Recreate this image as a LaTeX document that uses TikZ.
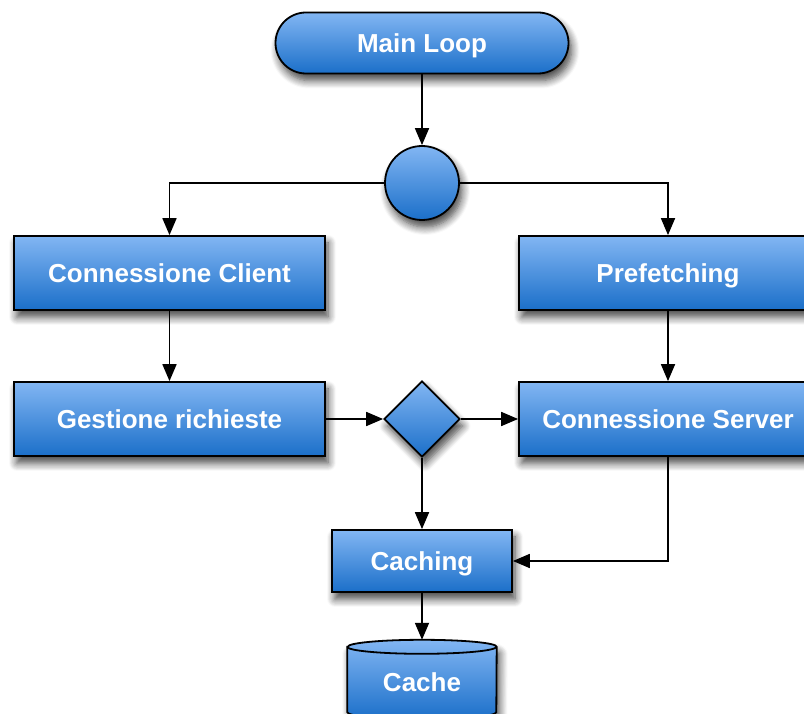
\documentclass[tikz,border=0pt]{standalone}
\usepackage{fontspec}
\setmainfont{Liberation Sans}
\usetikzlibrary{shapes.geometric,shapes.misc,arrows.meta,shadows.blur,backgrounds}

\definecolor{boxtop}{HTML}{82B6F3}
\definecolor{boxbot}{HTML}{1B6FC9}

\tikzset{
  x=1pt, y=1pt,
  boxfill/.style={top color=boxtop, bottom color=boxbot, draw=black, line width=1.8pt},
  softshadow/.style={blur shadow={shadow xshift=3pt, shadow yshift=-7pt,
      shadow blur radius=8pt, shadow blur steps=8, shadow opacity=75}},
  label/.style={text=white, font=\fontsize{26}{30}\selectfont\bfseries,
      text height=18.6pt, text depth=0pt},
  flowbox/.style={rectangle, boxfill, softshadow, inner sep=0pt, label},
  arr/.style={draw=black, line width=1.8pt, -{Triangle[length=17pt, width=14pt]}},
}

\begin{document}
\begin{tikzpicture}
  \useasboundingbox (0,0) rectangle (804,713);
  \clip (0,0) rectangle (804,713);

  % start of the loop
  \node[flowbox, rounded corners=30.5pt, minimum width=293pt, minimum height=61pt]
    (main) at (422,670) {Main Loop};

  % fork point
  \node[flowbox, circle, minimum size=74pt] (junc) at (422,530) {};

  % process boxes
  \node[flowbox, minimum width=311pt, minimum height=74pt] (client) at (169.5,440) {Connessione Client};
  \node[flowbox, minimum width=298pt, minimum height=74pt] (prefetch) at (668,440) {Prefetching};
  \node[flowbox, minimum width=311pt, minimum height=74pt] (gest) at (169.5,294) {Gestione richieste};
  \node[flowbox, diamond, aspect=1, minimum width=76pt, minimum height=76pt] (dec) at (422,294) {};
  \node[flowbox, minimum width=298pt, minimum height=74pt] (server) at (668,294) {Connessione Server};
  \node[flowbox, minimum width=180pt, minimum height=62pt] (caching) at (422,152) {Caching};

  % storage cylinder
  \node[inner sep=0pt, minimum width=149pt, minimum height=79pt] (cache) at (422,33.5) {};
  \begin{scope}[on background layer]
    \path[boxfill, softshadow]
      ([yshift=-7pt]cache.north west) -- ([yshift=7pt]cache.south west)
      arc[start angle=180, end angle=360, x radius=74.5pt, y radius=7pt]
      -- ([yshift=-7pt]cache.north east)
      arc[start angle=0, end angle=180, x radius=74.5pt, y radius=7pt] -- cycle;
    \draw[line width=1.8pt] ([yshift=-7pt]cache.north west)
      arc[start angle=180, end angle=360, x radius=74.5pt, y radius=7pt];
  \end{scope}
  \node[label, inner sep=0pt] (cachelabel) at (422,31) {Cache};

  % connectors
  \draw[arr] (main) -- (junc);
  \draw[arr] (junc.west) -| (client.north);
  \draw[arr] (junc.east) -| (prefetch.north);
  \draw[arr] (client) -- (gest);
  \draw[arr] (prefetch) -- (server);
  \draw[arr] (gest) -- (dec);
  \draw[arr] (dec) -- (server);
  \draw[arr] (dec) -- (caching);
  \draw[arr] (server.south) |- (caching.east);
  \draw[arr] (caching) -- (cache.north);
\end{tikzpicture}
\end{document}
